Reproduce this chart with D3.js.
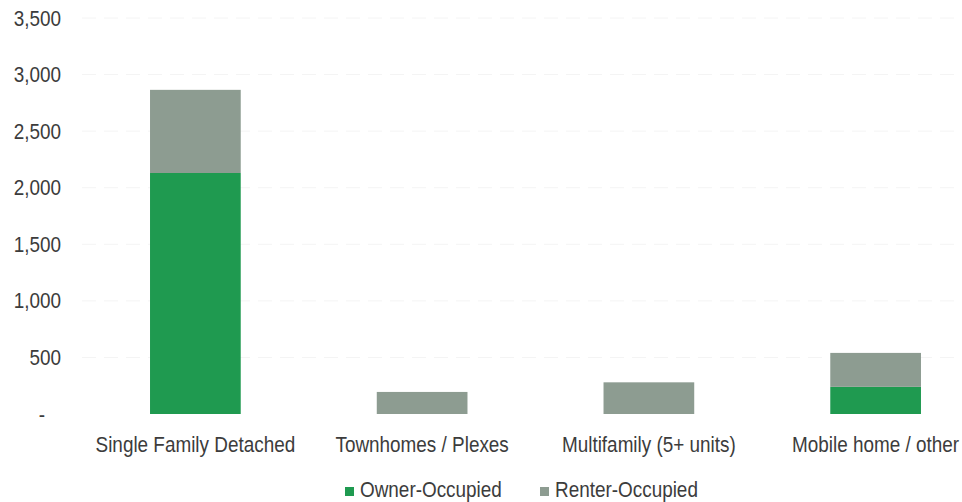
<!DOCTYPE html>
<html>
<head>
<meta charset="utf-8">
<script src="https://cdn.jsdelivr.net/npm/d3@7"></script>
<style>
  html, body { margin: 0; padding: 0; background: #ffffff; }
  svg { display: block; }
  text { font-family: "Liberation Sans", Arial, sans-serif; fill: #3c3c3c; }
</style>
</head>
<body>
<svg id="chart" width="962" height="502"></svg>
<script>
// Housing units by structure type and tenure
const categories = ["Single Family Detached", "Townhomes / Plexes", "Multifamily (5+ units)", "Mobile home / other"];
const ownerOccupied = [2130, 0, 0, 240];
const renterOccupied = [735, 195, 280, 300];
const seriesNames = ["Owner-Occupied", "Renter-Occupied"];
const yTicks = [0, 500, 1000, 1500, 2000, 2500, 3000, 3500];

const colors = { "Owner-Occupied": "#1f9a50", "Renter-Occupied": "#8d9c91" };

const svg = d3.select("#chart");
const W = 962, H = 502;
const margin = { left: 82, top: 18, bottom: 88 };
const plotRight = 989;
const FONT = 22;
const NARROW = 0.86; // horizontal squeeze for a condensed look

// squeeze text horizontally about its anchor point
function condense(sel) {
  sel.each(function () {
    const t = d3.select(this);
    const x0 = +t.attr("x") || 0;
    t.attr("transform", `translate(${x0},0) scale(${NARROW},1) translate(${-x0},0)`);
  });
}

const x = d3.scaleBand()
  .domain(categories)
  .range([margin.left, plotRight])
  .paddingInner(0.6)
  .paddingOuter(0.3);

const y = d3.scaleLinear()
  .domain([0, 3500])
  .range([H - margin.bottom, margin.top]);

// faint horizontal gridlines
svg.append("g")
  .selectAll("line")
  .data(yTicks.filter(d => d > 0))
  .join("line")
  .attr("x1", margin.left)
  .attr("x2", W)
  .attr("y1", d => y(d))
  .attr("y2", d => y(d))
  .attr("stroke", "#f4f4f4")
  .attr("stroke-width", 1)
  .attr("stroke-dasharray", "14,8");

// y axis labels
const yAxis = d3.axisLeft(y)
  .tickValues(yTicks)
  .tickSize(0)
  .tickPadding(0)
  .tickFormat(d => d === 0 ? "-" : d3.format(",")(d));

const gy = svg.append("g")
  .attr("transform", `translate(61,0)`)
  .call(yAxis);
gy.select(".domain").remove();
gy.selectAll("text")
  .attr("font-size", FONT)
  .attr("fill", "#3c3c3c")
  .style("font-family", "\"Liberation Sans\", Arial, sans-serif")
  .attr("x", d => d === 0 ? -16 : 0)
  .call(condense);

// stacked bars
const rows = categories.map((c, i) => ({
  category: c,
  "Owner-Occupied": ownerOccupied[i],
  "Renter-Occupied": renterOccupied[i]
}));
const stacked = d3.stack().keys(seriesNames)(rows);

svg.append("g")
  .selectAll("g")
  .data(stacked)
  .join("g")
  .attr("fill", s => colors[s.key])
  .selectAll("rect")
  .data(s => s)
  .join("rect")
  .attr("x", d => x(d.data.category))
  .attr("width", x.bandwidth())
  .attr("y", d => y(d[1]))
  .attr("height", d => y(d[0]) - y(d[1]));

// category labels
const xAxis = d3.axisBottom(x).tickSize(0).tickPadding(0);
const gx = svg.append("g")
  .attr("transform", `translate(0,${H - margin.bottom + 38})`)
  .call(xAxis);
gx.select(".domain").remove();
gx.selectAll("text")
  .attr("font-size", FONT)
  .attr("fill", "#3c3c3c")
  .attr("y", 0)
  .attr("dy", 0)
  .style("font-family", "\"Liberation Sans\", Arial, sans-serif")
  .call(condense);

// legend
const legendX = [345, 540];
const legend = svg.append("g")
  .selectAll("g")
  .data(seriesNames)
  .join("g")
  .attr("transform", (d, i) => `translate(${legendX[i]},${H - 5})`);
legend.append("rect")
  .attr("x", 0)
  .attr("y", -10)
  .attr("width", 9)
  .attr("height", 9)
  .attr("fill", d => colors[d]);
legend.append("text")
  .attr("x", 15)
  .attr("y", 0)
  .attr("font-size", FONT)
  .text(d => d)
  .call(condense);
</script>
</body>
</html>
